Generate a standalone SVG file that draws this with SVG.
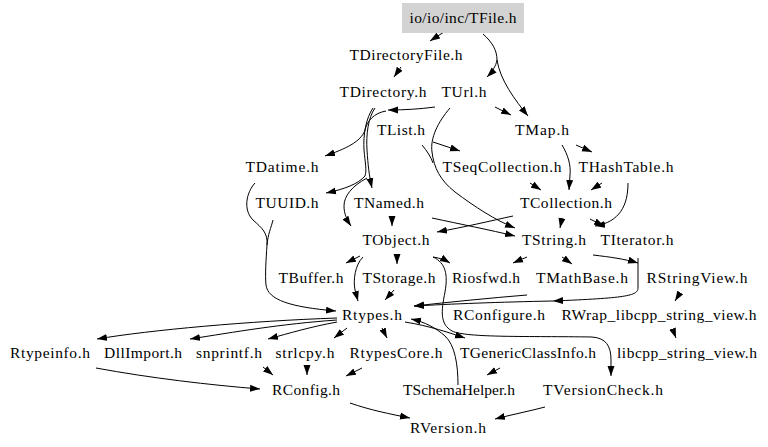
<svg xmlns="http://www.w3.org/2000/svg" width="768" height="447" viewBox="0 0 768 447">
<defs>
<marker id="ah" markerWidth="10" markerHeight="8" refX="10" refY="4" orient="auto" markerUnits="userSpaceOnUse"><path d="M0,0.5 L10,4 L0,7.5 z" fill="#000"/></marker>
<style>
text{font-family:"Liberation Serif","Times New Roman",serif;font-size:15.5px;fill:#000;text-anchor:middle}
.e{fill:none;stroke:#000;stroke-width:1}
.a{marker-end:url(#ah)}
</style>
</defs>
<rect width="768" height="447" fill="#fff"/>
<g id="connectors">
<path class="e a" d="M444,32 L430,41"/>
<path class="e a" d="M483,34 C492,42 497,50 497,60 C496,66 492,72 487,77"/>
<path class="e a" d="M497,60 C500,80 515,100 528,116"/>
<path class="e a" d="M401,67 L394,77"/>
<path class="e a" d="M495,107 L511,115"/>
<path class="e a" d="M435,107 C420,109 405,110 388,110"/>
<path class="e a" d="M386,111 C374,113 367,121 365,130 C361,142 345,149 325,156"/>
<path class="e a" d="M373,108 C366,118 363,135 364,150 C365,162 367,170 365,176 C358,184 345,189 326,193"/>
<path class="e a" d="M375,108 C368,118 366,135 367,150 C368,165 369,175 372,188"/>
<path class="e a" d="M367,178 C352,186 344,196 344,206 C344,214 347,220 351,226"/>
<path class="e a" d="M450,108 C438,122 430,138 432,152 C434,168 440,180 455,192 C475,207 495,220 515,228"/>
<path class="e" d="M422,145 C427,151 431,157 433,163"/>
<path class="e a" d="M433,142 L460,151"/>
<path class="e a" d="M562,145 C568,155 571,165 570,175 L569,190"/>
<path class="e a" d="M576,145 L592,152"/>
<path class="e a" d="M530,183 L541,190"/>
<path class="e a" d="M602,183 L591,190"/>
<path class="e a" d="M628,183 C628,205 620,222 595,226"/>
<path class="e a" d="M590,219 L604,226"/>
<path class="e a" d="M562,218 L560,228"/>
<path class="e a" d="M513,216 C490,221 465,227 437,232"/>
<path class="e a" d="M432,218 C460,224 490,230 515,236"/>
<path class="e a" d="M392,216 L392,226"/>
<path class="e a" d="M527,257 L513,263"/>
<path class="e a" d="M562,257 L572,264"/>
<path class="e a" d="M593,255 C610,257 625,259 638,263"/>
<path class="e a" d="M638,258 L638,288 C638,296 625,298 553,301"/>
<path class="e a" d="M553,301 C500,302 450,304 414,306"/>
<path class="e a" d="M527,295 C490,298 450,302 414,306"/>
<path class="e a" d="M360,256 L346,263"/>
<path class="e a" d="M363,257 C355,265 353,280 355,290 L358,301"/>
<path class="e a" d="M397,254 L397,264"/>
<path class="e a" d="M394,290 L385,300"/>
<path class="e a" d="M433,257 C440,258 445,260 450,263"/>
<path class="e a" d="M433,257 C446,263 448,275 445,292 C441,312 440,324 452,331 C466,338 530,336 592,337 C606,338 611,346 611,360 L611,376"/>
<path class="e a" d="M255,183 C246,193 243,210 253,220 C262,228 268,233 267,245 C266,260 265,275 266,285 C268,300 290,307 336,311"/>
<path class="e" d="M273,220 C271,228 268,234 267,245"/>
<path class="e a" d="M405,322 C430,326 450,333 465,338"/>
<path class="e a" d="M458,385 C458,365 455,345 445,336 C436,328 425,322 411,319"/>
<path class="e a" d="M500,368 L487,375"/>
<path class="e a" d="M337,318 C250,321 150,330 97,339"/>
<path class="e a" d="M337,320 C280,324 235,332 190,339"/>
<path class="e a" d="M337,322 C310,327 290,333 268,339"/>
<path class="e a" d="M347,328 L334,338"/>
<path class="e a" d="M382,328 L387,338"/>
<path class="e a" d="M96,368 C150,378 210,385 260,389"/>
<path class="e a" d="M263,367 L273,375"/>
<path class="e a" d="M307,366 L307,375"/>
<path class="e a" d="M362,368 L346,376"/>
<path class="e a" d="M350,403 C370,410 390,414 410,418"/>
<path class="e a" d="M545,407 C530,411 510,415 495,419"/>
<path class="e a" d="M680,293 L675,301"/>
<path class="e a" d="M673,330 L676,338"/>
</g>
<g id="n_TFile"><rect x="402" y="3" width="122" height="30" fill="#d3d3d3"/><text x="463" y="23" textLength="107">io/io/inc/TFile.h</text></g>
<g id="n_TDirectoryFile"><text x="406" y="60" textLength="113">TDirectoryFile.h</text></g>
<g id="n_TDirectory"><text x="383" y="97" textLength="87">TDirectory.h</text></g>
<g id="n_TUrl"><text x="464" y="97" textLength="45">TUrl.h</text></g>
<g id="n_TList"><text x="401" y="135" textLength="48">TList.h</text></g>
<g id="n_TMap"><text x="542" y="135" textLength="54">TMap.h</text></g>
<g id="n_TDatime"><text x="282" y="172" textLength="73">TDatime.h</text></g>
<g id="n_TSeqCollection"><text x="502" y="172" textLength="119">TSeqCollection.h</text></g>
<g id="n_THashTable"><text x="626" y="172" textLength="95">THashTable.h</text></g>
<g id="n_TUUID"><text x="287" y="208" textLength="63">TUUID.h</text></g>
<g id="n_TNamed"><text x="389" y="208" textLength="70">TNamed.h</text></g>
<g id="n_TCollection"><text x="566" y="208" textLength="92">TCollection.h</text></g>
<g id="n_TObject"><text x="396" y="245" textLength="67">TObject.h</text></g>
<g id="n_TString"><text x="554" y="245" textLength="64">TString.h</text></g>
<g id="n_TIterator"><text x="637" y="245" textLength="73">TIterator.h</text></g>
<g id="n_TBuffer"><text x="311" y="283" textLength="65">TBuffer.h</text></g>
<g id="n_TStorage"><text x="399" y="283" textLength="73">TStorage.h</text></g>
<g id="n_Riosfwd"><text x="486" y="283" textLength="68">Riosfwd.h</text></g>
<g id="n_TMathBase"><text x="582" y="283" textLength="92">TMathBase.h</text></g>
<g id="n_RStringView"><text x="697" y="283" textLength="101">RStringView.h</text></g>
<g id="n_Rtypes"><text x="372" y="320" textLength="60">Rtypes.h</text></g>
<g id="n_RConfigure"><text x="499" y="320" textLength="92">RConfigure.h</text></g>
<g id="n_RWrap"><text x="659" y="320" textLength="195">RWrap_libcpp_string_view.h</text></g>
<g id="n_Rtypeinfo"><text x="50" y="358" textLength="80">Rtypeinfo.h</text></g>
<g id="n_DllImport"><text x="143" y="358" textLength="78">DllImport.h</text></g>
<g id="n_snprintf"><text x="229" y="358" textLength="66">snprintf.h</text></g>
<g id="n_strlcpy"><text x="305" y="358" textLength="59">strlcpy.h</text></g>
<g id="n_RtypesCore"><text x="396" y="358" textLength="93">RtypesCore.h</text></g>
<g id="n_TGenericClassInfo"><text x="528" y="358" textLength="136">TGenericClassInfo.h</text></g>
<g id="n_libcpp"><text x="687" y="358" textLength="140">libcpp_string_view.h</text></g>
<g id="n_RConfig"><text x="306" y="395" textLength="68">RConfig.h</text></g>
<g id="n_TSchemaHelper"><text x="459" y="395" textLength="112">TSchemaHelper.h</text></g>
<g id="n_TVersionCheck"><text x="603" y="395" textLength="120">TVersionCheck.h</text></g>
<g id="n_RVersion"><text x="448" y="433" textLength="76">RVersion.h</text></g>
</svg>
